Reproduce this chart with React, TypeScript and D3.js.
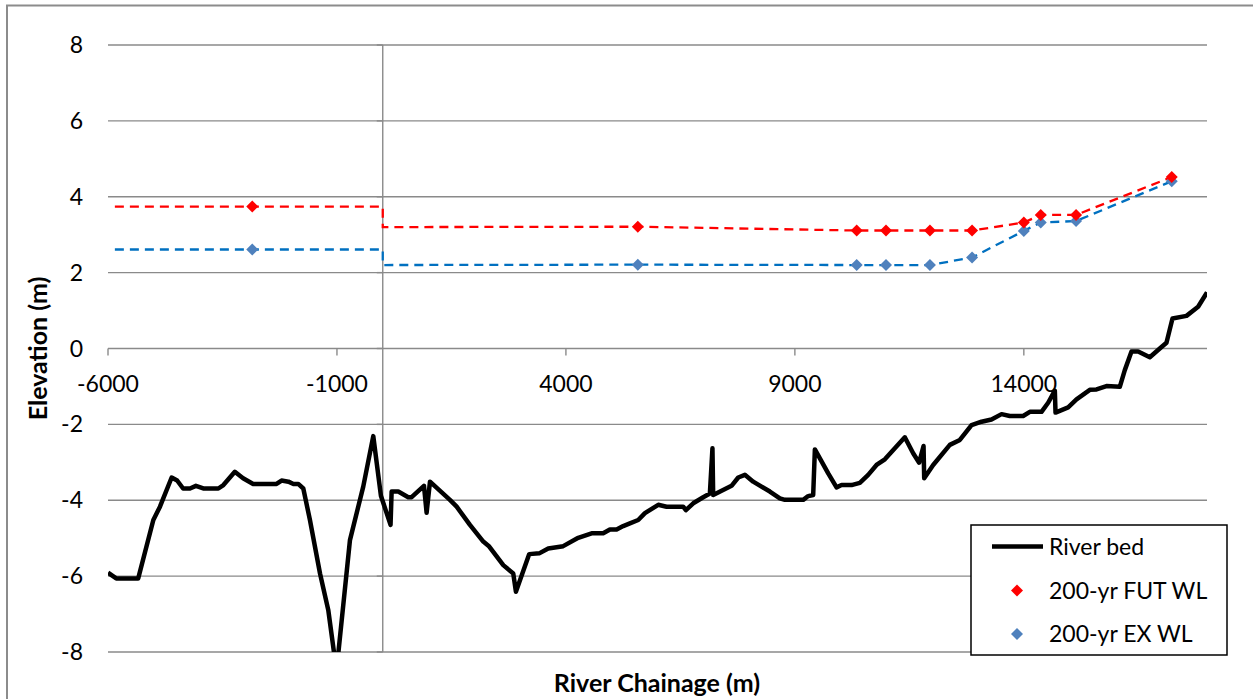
import React from "react";
import * as d3 from "d3";

// ---- Data ----
const bedChainage = [
  -6000, -5820, -5340, -5010, -4865, -4610, -4490, -4360, -4210, -4080, -3920, -3590, -3480, -3230, -3050, -2830,
  -2320, -2210, -2060, -1950, -1845, -1735, -1590, -1370, -1190, -1010, -716, -426, -207, -40, 170, 194, 339, 557,
  631, 900, 958, 1031, 1467, 1614, 1904, 2195, 2326, 2632, 2850, 2908, 3199, 3417, 3614, 3941, 4269, 4561, 4814,
  4961, 5107, 5251, 5397, 5579, 5725, 6016, 6198, 6561, 6620, 6780, 6998, 7144, 7200, 7216, 7617, 7763, 7908, 8090,
  8454, 8672, 8782, 9182, 9291, 9400, 9437, 9728, 9910, 10019, 10237, 10419, 10601, 10783, 10965, 11183, 11401,
  11583, 11714, 11810, 11824, 12020, 12384, 12603, 12858, 13076, 13294, 13513, 13694, 13985, 14131, 14386, 14531,
  14677, 14692, 14968, 15150, 15441, 15587, 15805, 16096, 16205, 16351, 16496, 16751, 16969, 17115, 17246, 17552,
  17806, 18000,
];
const bedElevation = [
  -5.91, -6.06, -6.06, -4.52, -4.17, -3.4, -3.48, -3.69, -3.69, -3.62, -3.69, -3.69, -3.6, -3.25, -3.42, -3.57,
  -3.57, -3.48, -3.51, -3.57, -3.57, -3.69, -4.52, -5.93, -6.89, -8.5, -5.05, -3.64, -2.31, -3.88, -4.65, -3.77, -3.77, -3.92,
  -3.92, -3.62, -4.33, -3.51, -3.99, -4.17, -4.65, -5.09, -5.22, -5.71, -5.93, -6.41, -5.42, -5.4, -5.27, -5.21, -4.99, -4.87, -4.87,
  -4.77, -4.77, -4.68, -4.61, -4.52, -4.34, -4.12, -4.17, -4.17, -4.26, -4.08, -3.92, -3.82, -2.63, -3.86, -3.62, -3.4, -3.33, -3.51,
  -3.77, -3.95, -3.99, -3.99, -3.89, -3.86, -2.66, -3.29, -3.66, -3.6, -3.6, -3.54, -3.33, -3.07, -2.92, -2.63, -2.34,
  -2.76, -3.01, -2.57, -3.42, -3.07, -2.54, -2.41, -2.02, -1.93, -1.87, -1.73, -1.78, -1.78, -1.67, -1.67, -1.43,
  -1.11, -1.69, -1.55, -1.34, -1.09, -1.08, -0.99, -1.01, -0.57, -0.08, -0.08, -0.23, 0.0, 0.15, 0.79, 0.86,
  1.1, 1.48,
];

const wlChainage = [-2850, 5570, 10350, 10990, 11950, 12870, 14000, 14370, 15140, 17230];
const futLevel = [3.74, 3.21, 3.11, 3.11, 3.11, 3.11, 3.32, 3.52, 3.52, 4.52];
const exLevel = [2.61, 2.21, 2.2, 2.2, 2.2, 2.4, 3.1, 3.32, 3.36, 4.41];

const lineChainage = [-5850, 0, 0, 5570, 10350, 10990, 11950, 12870, 14000, 14370, 15140, 17230];
const futLineLevel = [3.74, 3.74, 3.2, 3.21, 3.11, 3.11, 3.11, 3.11, 3.32, 3.52, 3.52, 4.52];
const exLineLevel = [2.61, 2.61, 2.2, 2.21, 2.2, 2.2, 2.2, 2.4, 3.1, 3.32, 3.36, 4.41];

const xTicks = [-6000, -1000, 4000, 9000, 14000];
const yTicks = [-8, -6, -4, -2, 0, 2, 4, 6, 8];

const legendLabels = ["River bed", "200-yr FUT WL", "200-yr EX WL"];

const W = 1253;
const H = 699;
const FONT = "Lato, 'Open Sans', sans-serif";
const GRID = "#8a8a8a";

export default function App() {
  const x = d3.scaleLinear().domain([-6000, 18000]).range([108, 1207]);
  const y = d3.scaleLinear().domain([-8, 8]).range([652, 45]);

  const line = d3
    .line<[number, number]>()
    .x((d) => x(d[0]))
    .y((d) => y(d[1]));

  const bed = bedChainage.map((c, i) => [c, bedElevation[i]] as [number, number]);
  const futLine = lineChainage.map((c, i) => [c, futLineLevel[i]] as [number, number]);
  const exLine = lineChainage.map((c, i) => [c, exLineLevel[i]] as [number, number]);

  const diamond = (cx: number, cy: number, r = 6) =>
    `M${cx},${cy - r}L${cx + r},${cy}L${cx},${cy + r}L${cx - r},${cy}Z`;

  const x0 = x(0);
  const y0 = y(0);

  return (
    <svg
      width={W}
      height={H}
      style={{ position: "absolute", left: 0, top: 0, background: "#fff" }}
      fontFamily={FONT}
    >
      <defs>
        <clipPath id="plot">
          <rect x={x(-6000)} y={y(8)} width={x(18000) - x(-6000)} height={y(-8) - y(8)} />
        </clipPath>
      </defs>
      <rect x={0} y={0} width={W} height={H} fill="#fff" />
      {/* chart border */}
      <path d={`M7,${H + 5}V5.5H${W + 5}`} fill="none" stroke="#8c8c8c" strokeWidth={2} />

      {/* gridlines */}
      {yTicks.map((t) => (
        <line key={"g" + t} x1={x(-6000)} x2={x(18000)} y1={y(t)} y2={y(t)} stroke={GRID} strokeWidth={1.4} />
      ))}

      {/* vertical axis at x = 0 */}
      <line x1={x0} x2={x0} y1={y(8)} y2={y(-8)} stroke={GRID} strokeWidth={1.4} />
      {yTicks.map((t) => (
        <line key={"yt" + t} x1={x0 - 6} x2={x0} y1={y(t)} y2={y(t)} stroke={GRID} strokeWidth={1.4} />
      ))}
      {/* horizontal axis ticks at y = 0 */}
      {xTicks.map((t) => (
        <line key={"xt" + t} x1={x(t)} x2={x(t)} y1={y0} y2={y0 + 7} stroke={GRID} strokeWidth={1.4} />
      ))}

      {/* y tick labels */}
      {yTicks.map((t) => (
        <text key={"yl" + t} x={83} y={y(t)} dy="0.35em" textAnchor="end" fontSize={23} fill="#000">
          {t}
        </text>
      ))}
      {/* x tick labels */}
      {xTicks.map((t) => (
        <text key={"xl" + t} x={x(t)} y={392} textAnchor="middle" fontSize={23} fill="#000">
          {t}
        </text>
      ))}

      {/* axis titles */}
      <text
        transform={`translate(47,${(y(8) + y(-8)) / 2}) rotate(-90)`}
        textAnchor="middle"
        fontSize={25}
        fontWeight="bold"
        fill="#000"
      >
        Elevation (m)
      </text>
      <text x={657} y={692} textAnchor="middle" fontSize={25} fontWeight="bold" fill="#000">
        River Chainage (m)
      </text>

      <g clipPath="url(#plot)">
        {/* dashed water level lines */}
        <path d={line(futLine) || ""} fill="none" stroke="#ff0000" strokeWidth={2.3} strokeDasharray="9,6" />
        <path d={line(exLine) || ""} fill="none" stroke="#0070c0" strokeWidth={2.3} strokeDasharray="9,6" />
        {/* river bed */}
        <path d={line(bed) || ""} fill="none" stroke="#000" strokeWidth={4.5} strokeLinejoin="round" />
      </g>

      {/* markers */}
      {wlChainage.map((c, i) => (
        <path key={"ex" + i} d={diamond(x(c), y(exLevel[i]))} fill="#4f81bd" />
      ))}
      {wlChainage.map((c, i) => (
        <path key={"fut" + i} d={diamond(x(c), y(futLevel[i]))} fill="#ff0000" />
      ))}

      {/* legend */}
      <g>
        <rect x={971} y={525} width={256} height={130} fill="#fff" stroke="#000" strokeWidth={1.5} />
        <line x1={992} x2={1043} y1={546.5} y2={546.5} stroke="#000" strokeWidth={4.5} />
        <text x={1049} y={555} fontSize={23} fill="#000">
          {legendLabels[0]}
        </text>
        <path d={diamond(1017, 590.5)} fill="#ff0000" />
        <text x={1049} y={598.5} fontSize={23} fill="#000">
          {legendLabels[1]}
        </text>
        <path d={diamond(1017, 634)} fill="#4f81bd" />
        <text x={1049} y={642} fontSize={23} fill="#000">
          {legendLabels[2]}
        </text>
      </g>
    </svg>
  );
}
